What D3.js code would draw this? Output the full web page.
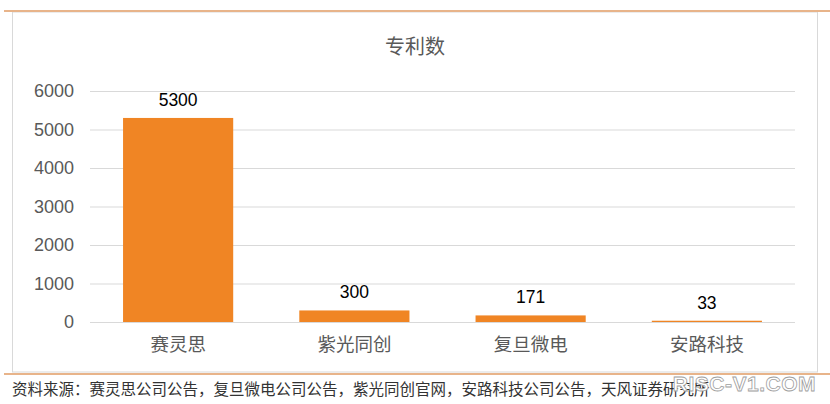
<!DOCTYPE html>
<html><head><meta charset="utf-8">
<script src="https://cdn.jsdelivr.net/npm/d3@7"></script>
<style>body{margin:0;background:#fff}svg{display:block}</style>
</head><body>
<svg id="c" width="830" height="404"></svg>
<script>
const categories = ["赛灵思", "紫光同创", "复旦微电", "安路科技"];
const values = [5300, 300, 171, 33];
const yTicks = [0, 1000, 2000, 3000, 4000, 5000, 6000];
const title = "专利数";
const source = "资料来源：赛灵思公司公告，复旦微电公司公告，紫光同创官网，安路科技公司公告，天风证券研究所";

const svg = d3.select("#c");
const font = "'Noto Sans CJK SC', 'Liberation Sans', Arial, sans-serif";
const numFont = "'Liberation Sans', Arial, sans-serif";

// frame
svg.append("rect").attr("x", 12.5).attr("y", 12).attr("width", 805).attr("height", 360)
  .attr("fill", "#fff").attr("stroke", "#d9d9d9").attr("stroke-width", 1);
svg.append("line").attr("x1", 4).attr("x2", 830).attr("y1", 11).attr("y2", 11)
  .attr("stroke", "#e8b48a").attr("stroke-width", 2);
svg.append("line").attr("x1", 4).attr("x2", 830).attr("y1", 374).attr("y2", 374)
  .attr("stroke", "#e8b48a").attr("stroke-width", 2);

const x = d3.scaleBand().domain(categories).range([90, 795]).paddingInner(0.375).paddingOuter(0.1875);
const y = d3.scaleLinear().domain([0, 6000]).range([322, 91]);

// grid
svg.append("g").selectAll("line").data(yTicks).join("line")
  .attr("x1", 90).attr("x2", 795)
  .attr("y1", d => y(d) + 0.5).attr("y2", d => y(d) + 0.5)
  .attr("stroke", "#d9d9d9").attr("stroke-width", 1);

// y axis
const ya = svg.append("g").attr("transform", "translate(90,0)")
  .call(d3.axisLeft(y).tickValues(yTicks).tickSize(0).tickPadding(16).tickFormat(d3.format("d")));
ya.select(".domain").remove();
ya.selectAll("text").attr("font-family", numFont).attr("font-size", 18).attr("fill", "#595959");

// bars
svg.append("g").selectAll("rect").data(values).join("rect")
  .attr("x", (d, i) => x(categories[i]))
  .attr("width", x.bandwidth())
  .attr("y", d => y(d))
  .attr("height", d => y(0) - y(d))
  .attr("fill", "#f08524");

// data labels
svg.append("g").selectAll("text").data(values).join("text")
  .attr("x", (d, i) => x(categories[i]) + x.bandwidth() / 2)
  .attr("y", d => y(d) - 12)
  .attr("text-anchor", "middle")
  .attr("font-family", numFont).attr("font-size", 17.5).attr("fill", "#000")
  .text(d => d);

// x axis
const xa = svg.append("g").attr("transform", "translate(0,322)")
  .call(d3.axisBottom(x).tickSize(0).tickPadding(16));
xa.select(".domain").remove();
xa.selectAll("text").attr("font-family", font).attr("font-size", 18.5).attr("fill", "#595959");

// title
svg.append("text").attr("x", 415).attr("y", 54).attr("text-anchor", "middle")
  .attr("font-family", font).attr("font-size", 20).attr("fill", "#595959").text(title);

// source
svg.append("text").attr("x", 12).attr("y", 395)
  .attr("font-family", font).attr("font-size", 15.5).attr("fill", "#333").text(source);

// watermark
svg.append("text").attr("x", 816).attr("y", 391).attr("text-anchor", "end")
  .attr("font-family", numFont).attr("font-size", 21).attr("font-weight", "bold")
  .attr("fill", "#ffffff").attr("stroke", "#a0a0a0").attr("stroke-width", 0.8)
  .attr("letter-spacing", 0.5).text("RISC-V1.COM");
</script>
</body></html>
